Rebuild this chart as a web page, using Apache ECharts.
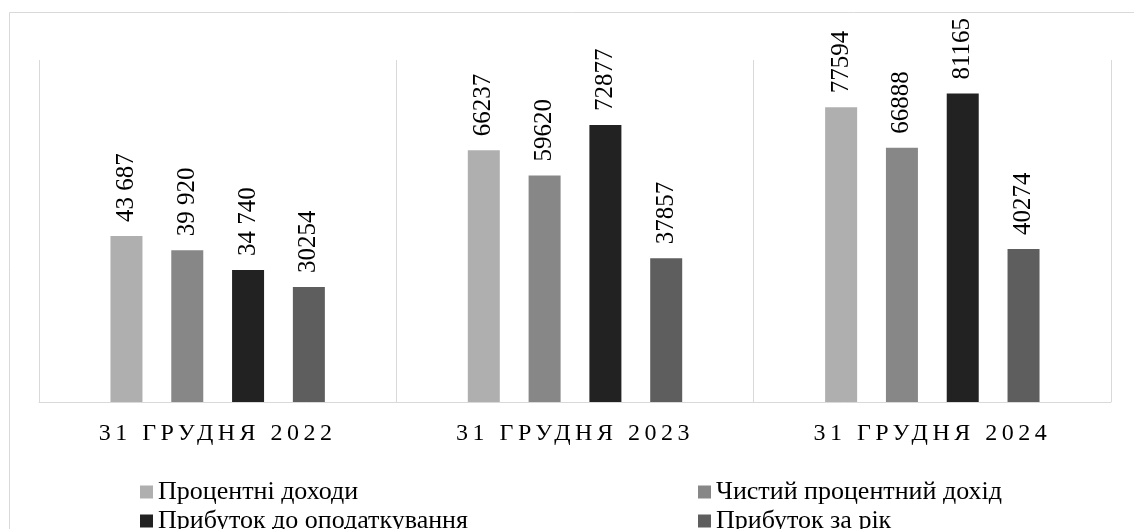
<!DOCTYPE html>
<html>
<head>
<meta charset="utf-8">
<script src="https://cdn.jsdelivr.net/npm/echarts@6/dist/echarts.min.js"></script>
<style>
  html, body { margin: 0; padding: 0; background: #ffffff; }
  #chart { width: 1134px; height: 529px; }
</style>
</head>
<body>
<div id="chart"></div>
<script>
// Periods on the horizontal axis
const categories = ['31 ГРУДНЯ 2022', '31 ГРУДНЯ 2023', '31 ГРУДНЯ 2024'];

// Series names
const seriesNames = [
  'Процентні доходи',
  'Чистий процентний дохід',
  'Прибуток до оподаткування',
  'Прибуток за рік'
];

// Values, thousand UAH
const interestIncome    = [43687, 66237, 77594];
const netInterestIncome = [39920, 59620, 66888];
const profitBeforeTax   = [34740, 72877, 81165];
const profitForYear     = [30254, 37857, 40274];

// Printed value labels above each bar
const interestIncomeLabels    = ['43 687', '66237', '77594'];
const netInterestIncomeLabels = ['39 920', '59620', '66888'];
const profitBeforeTaxLabels   = ['34 740', '72877', '81165'];
const profitForYearLabels     = ['30254', '37857', '40274'];

const seriesValues = [interestIncome, netInterestIncome, profitBeforeTax, profitForYear];
const seriesLabels = [interestIncomeLabels, netInterestIncomeLabels, profitBeforeTaxLabels, profitForYearLabels];
const colors = ['#afafaf', '#878787', '#222222', '#5e5e5e'];

const serif = 'Liberation Serif';

// Period captions are drawn with widened letter spacing
const captionSpacing = '4.5px';
const nativeFillText = CanvasRenderingContext2D.prototype.fillText;
CanvasRenderingContext2D.prototype.fillText = function (text, x, y, maxWidth) {
  const args = maxWidth === undefined ? [text, x, y] : [text, x, y, maxWidth];
  if (categories.indexOf(text) >= 0 && 'letterSpacing' in this) {
    this.save();
    this.letterSpacing = captionSpacing;
    nativeFillText.apply(this, args);
    this.restore();
    return;
  }
  nativeFillText.apply(this, args);
};

const chart = echarts.init(document.getElementById('chart'));

const series = seriesValues.map((vals, i) => ({
  name: seriesNames[i],
  type: 'bar',
  data: vals,
  barWidth: 32,
  barGap: '90%',
  itemStyle: { color: colors[i] },
  label: {
    show: true,
    position: 'top',
    rotate: 90,
    align: 'left',
    verticalAlign: 'middle',
    distance: 14,
    color: '#000000',
    fontFamily: serif,
    fontSize: 25,
    formatter: p => seriesLabels[i][p.dataIndex]
  }
}));

// One legend entry per slot: two columns, two rows
function legendEntry(name, left, top) {
  return {
    data: [name],
    left: left,
    top: top,
    padding: 0,
    icon: 'rect',
    itemWidth: 13,
    itemHeight: 13,
    selectedMode: false,
    textStyle: { fontFamily: serif, fontSize: 26, color: '#000000', lineHeight: 18 }
  };
}

chart.setOption({
  animation: false,
  backgroundColor: '#ffffff',
  color: colors,
  graphic: [{
    type: 'rect',
    silent: true,
    shape: { x: 9.5, y: 12.5, width: 1300, height: 700 },
    style: { fill: 'none', stroke: '#d9d9d9', lineWidth: 1 }
  }],
  grid: { left: 39, right: 23, top: 60, bottom: 127 },
  legend: [
    legendEntry(seriesNames[0], 140, 479),
    legendEntry(seriesNames[1], 698, 479),
    legendEntry(seriesNames[2], 140, 508),
    legendEntry(seriesNames[3], 698, 508)
  ],
  xAxis: {
    type: 'category',
    data: categories,
    boundaryGap: true,
    axisLine: { show: true, lineStyle: { color: '#d9d9d9', width: 1 } },
    axisTick: { show: false },
    splitLine: { show: true, lineStyle: { color: '#d9d9d9', width: 1 } },
    axisLabel: {
      margin: 20,
      color: '#000000',
      fontFamily: serif,
      fontSize: 24
    }
  },
  yAxis: {
    type: 'value',
    min: 0,
    max: 90000,
    show: false,
    splitLine: { show: false }
  },
  series: series
});
</script>
</body>
</html>
